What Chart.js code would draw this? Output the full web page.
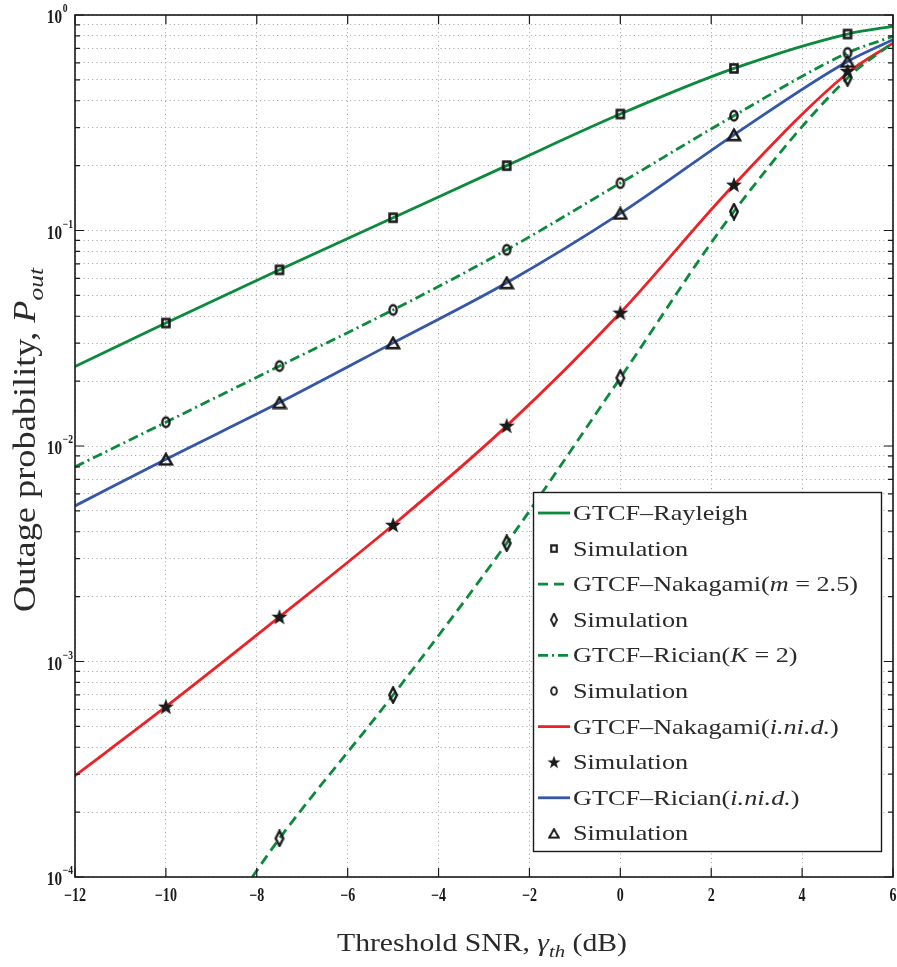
<!DOCTYPE html>
<html>
<head>
<meta charset="utf-8">
<script src="https://cdn.jsdelivr.net/npm/chart.js@4.4.0/dist/chart.umd.min.js"></script>
<style>
  html, body { margin: 0; padding: 0; background: #fff; }
</style>
</head>
<body>
<canvas id="outageChart" width="897" height="967"></canvas>
<script>
// threshold SNR positions (dB)
const snrCurve = [-12, -10, -7.5, -5, -2.5, 0, 2.5, 5, 6];
const snrSim = [-10, -7.5, -5, -2.5, 0, 2.5, 5];
const snrNakCurve = [-8.1, -7.5, -5, -2.5, 0, 2.5, 5, 6];
const snrNakSim = [-7.5, -5, -2.5, 0, 2.5, 5];

// outage probability
const rayleighCurve = [0.0234, 0.0372, 0.0657, 0.1146, 0.200, 0.347, 0.565, 0.816, 0.885];
const rayleighSim = [0.0372, 0.0657, 0.1146, 0.200, 0.347, 0.565, 0.816];
const nakagamiCurve = [0.000100, 0.000151, 0.000699, 0.00354, 0.0207, 0.1225, 0.510, 0.745];
const nakagamiSim = [0.000151, 0.000699, 0.00354, 0.0207, 0.1225, 0.510];
const ricianCurve = [0.0080, 0.0129, 0.0235, 0.0428, 0.0814, 0.166, 0.341, 0.667, 0.796];
const ricianSim = [0.0129, 0.0235, 0.0428, 0.0814, 0.166, 0.341, 0.667];
const nakInidCurve = [0.000295, 0.000617, 0.00161, 0.0043, 0.0124, 0.0415, 0.163, 0.538, 0.741];
const nakInidSim = [0.000617, 0.00161, 0.0043, 0.0124, 0.0415, 0.163, 0.550];
const ricInidCurve = [0.00527, 0.00868, 0.0159, 0.0301, 0.0572, 0.120, 0.278, 0.609, 0.768];
const ricInidSim = [0.00868, 0.0159, 0.0301, 0.0572, 0.120, 0.278, 0.609];

// axis ticks
const xTicks = [-12, -10, -8, -6, -4, -2, 0, 2, 4, 6];
const yDecades = [-4, -3, -2, -1, 0];
const minorSteps = [2, 3, 4, 5, 6, 7, 8, 9];

// legend labels: [text, italic]
const seriesNames = [
    [['GTCF\u2013Rayleigh', false]],
    [['Simulation', false]],
    [['GTCF\u2013Nakagami(', false], ['m', true], [' = 2.5)', false]],
    [['Simulation', false]],
    [['GTCF\u2013Rician(', false], ['K', true], [' = 2)', false]],
    [['Simulation', false]],
    [['GTCF\u2013Nakagami(', false], ['i.ni.d.', true], [')', false]],
    [['Simulation', false]],
    [['GTCF\u2013Rician(', false], ['i.ni.d.', true], [')', false]],
    [['Simulation', false]]
];

const GREEN = '#0b8a3b';
const RED = '#ee2226';
const BLUE = '#3457a8';
const INK = '#1a1a1a';
const SERIF = '"Liberation Serif", "DejaVu Serif", serif';

function makeMarker(w, h, paint) {
    const c = document.createElement('canvas');
    c.width = w;
    c.height = h;
    const g = c.getContext('2d');
    g.strokeStyle = INK;
    g.fillStyle = INK;
    paint(g);
    return c;
}

const squareMark = makeMarker(12, 13, g => {
    g.lineWidth = 2.6;
    g.strokeRect(2.5, 2.5, 7, 8);
});
const diamondMark = makeMarker(12, 18, g => {
    g.lineWidth = 2.4;
    g.beginPath();
    g.moveTo(6, 1.5); g.lineTo(9.8, 9); g.lineTo(6, 16.5); g.lineTo(2.2, 9);
    g.closePath();
    g.stroke();
});
const circleMark = makeMarker(12, 15, g => {
    g.lineWidth = 2.4;
    g.beginPath();
    g.ellipse(6, 7.5, 3.6, 4.8, 0, 0, Math.PI * 2);
    g.stroke();
});
const starMark = makeMarker(18, 18, g => {
    g.beginPath();
    for (let i = 0; i < 10; i++) {
        const r = i % 2 === 0 ? 8.5 : 3.5;
        const a = -Math.PI / 2 + i * Math.PI / 5;
        g.lineTo(9 + r * Math.cos(a), 9.5 + r * Math.sin(a));
    }
    g.closePath();
    g.fill();
});
const triangleMark = makeMarker(16, 14, g => {
    g.lineWidth = 2.5;
    g.beginPath();
    g.moveTo(8, 1.8); g.lineTo(14, 12.2); g.lineTo(2, 12.2);
    g.closePath();
    g.stroke();
});

function pts(xs, ys) {
    return xs.map((x, i) => ({ x: x, y: ys[i] }));
}

function curve(data, color, dash) {
    return {
        data: data,
        borderColor: color,
        borderWidth: 2.8,
        borderDash: dash,
        pointRadius: 0,
        showLine: true,
        fill: false,
        cubicInterpolationMode: 'monotone',
        clip: 0,
        order: 2
    };
}

function sim(data, mark) {
    return {
        data: data,
        showLine: false,
        pointStyle: mark,
        pointRadius: 5,
        order: 1
    };
}

const datasets = [
    curve(pts(snrCurve, rayleighCurve), GREEN, []),
    sim(pts(snrSim, rayleighSim), squareMark),
    curve(pts(snrNakCurve, nakagamiCurve), GREEN, [10, 6]),
    sim(pts(snrNakSim, nakagamiSim), diamondMark),
    curve(pts(snrCurve, ricianCurve), GREEN, [10, 4, 2, 4]),
    sim(pts(snrSim, ricianSim), circleMark),
    curve(pts(snrCurve, nakInidCurve), RED, []),
    sim(pts(snrSim, nakInidSim), starMark),
    curve(pts(snrCurve, ricInidCurve), BLUE, []),
    sim(pts(snrSim, ricInidSim), triangleMark)
];

// draws text runs [text, italic, sub] scaled horizontally by sx
function runsWidth(ctx, runs, size) {
    let w = 0;
    runs.forEach(r => {
        const s = r[2] ? size * 0.7 : size;
        ctx.font = (r[1] ? 'italic ' : '') + s + 'px ' + SERIF;
        w += ctx.measureText(r[0]).width;
    });
    return w;
}

function drawRuns(ctx, runs, size, sx) {
    let x = 0;
    runs.forEach(r => {
        const s = r[2] ? size * 0.7 : size;
        ctx.font = (r[1] ? 'italic ' : '') + s + 'px ' + SERIF;
        ctx.save();
        ctx.scale(sx, 1);
        ctx.fillText(r[0], x / sx, r[2] ? size * 0.25 : 0);
        ctx.restore();
        x += ctx.measureText(r[0]).width * sx;
    });
}

const paperPlugin = {
    id: 'paper',
    beforeDraw(chart) {
        const ctx = chart.ctx;
        ctx.save();
        ctx.fillStyle = '#fff';
        ctx.fillRect(0, 0, chart.width, chart.height);
        ctx.restore();
    },
    afterDraw(chart) {
        const ctx = chart.ctx;
        const a = chart.chartArea;
        const xs = chart.scales.x;
        const ys = chart.scales.y;
        ctx.save();
        ctx.strokeStyle = INK;
        ctx.fillStyle = INK;

        // inward tick marks
        ctx.lineWidth = 1.2;
        ctx.beginPath();
        xTicks.forEach(t => {
            const px = xs.getPixelForValue(t);
            ctx.moveTo(px, a.bottom); ctx.lineTo(px, a.bottom - 9);
            ctx.moveTo(px, a.top); ctx.lineTo(px, a.top + 9);
        });
        yDecades.forEach(d => {
            const py = ys.getPixelForValue(Math.pow(10, d));
            ctx.moveTo(a.left, py); ctx.lineTo(a.left + 9, py);
            ctx.moveTo(a.right, py); ctx.lineTo(a.right - 9, py);
            if (d < 0) {
                minorSteps.forEach(m => {
                    const pm = ys.getPixelForValue(m * Math.pow(10, d));
                    ctx.moveTo(a.left, pm); ctx.lineTo(a.left + 5, pm);
                    ctx.moveTo(a.right, pm); ctx.lineTo(a.right - 5, pm);
                });
            }
        });
        ctx.stroke();

        // frame
        ctx.lineWidth = 1.6;
        ctx.strokeRect(a.left, a.top, a.right - a.left, a.bottom - a.top);

        // x tick labels
        ctx.textAlign = 'center';
        ctx.textBaseline = 'alphabetic';
        ctx.font = 'bold 18px ' + SERIF;
        xTicks.forEach(t => {
            const px = xs.getPixelForValue(t);
            const label = t < 0 ? '\u2212' + Math.abs(t) : String(t);
            ctx.save();
            ctx.translate(px, a.bottom + 24);
            ctx.scale(0.78, 1);
            ctx.fillText(label, 0, 0);
            ctx.restore();
        });

        // y tick labels 10^d
        yDecades.forEach(d => {
            const py = ys.getPixelForValue(Math.pow(10, d));
            ctx.save();
            ctx.translate(a.left - 13, py + 8);
            ctx.scale(0.8, 1);
            ctx.textAlign = 'right';
            ctx.font = 'bold 19px ' + SERIF;
            ctx.fillText('10', 0, 0);
            ctx.textAlign = 'left';
            ctx.font = 'bold 12px ' + SERIF;
            ctx.fillText(d < 0 ? '\u2212' + Math.abs(d) : '0', 1, -11);
            ctx.restore();
        });

        // x axis title
        ctx.textAlign = 'left';
        ctx.fillStyle = '#2a2a2a';
        const xRuns = [['Threshold SNR, ', false], ['\u03b3', true], ['th', true, true], [' (dB)', false]];
        const xw = runsWidth(ctx, xRuns, 25);
        ctx.save();
        ctx.translate(337, 951);
        drawRuns(ctx, xRuns, 25, 290 / xw);
        ctx.restore();

        // y axis title
        const yRuns = [['Outage probability, ', false], ['P', true], ['out', true, true]];
        const yw = runsWidth(ctx, yRuns, 31);
        ctx.save();
        ctx.translate(35, 612);
        ctx.rotate(-Math.PI / 2);
        drawRuns(ctx, yRuns, 31, 344 / yw);
        ctx.restore();

        // legend box
        const lx = 533, ly = 492, lw = 348, lh = 359;
        ctx.fillStyle = '#fff';
        ctx.fillRect(lx, ly, lw, lh);
        ctx.lineWidth = 1.4;
        ctx.strokeStyle = INK;
        ctx.strokeRect(lx + 0.5, ly + 0.5, lw, lh);
        const legendSize = 21;
        const refW = runsWidth(ctx, seriesNames[2], legendSize);
        const lsx = 285 / refW;
        const rowStep = 35.6;
        chart.data.datasets.forEach((ds, i) => {
            const ry = 513 + i * rowStep;
            if (ds.showLine) {
                ctx.save();
                ctx.strokeStyle = ds.borderColor;
                ctx.lineWidth = ds.borderWidth;
                ctx.setLineDash(ds.borderDash);
                ctx.beginPath();
                ctx.moveTo(538, ry);
                ctx.lineTo(570, ry);
                ctx.stroke();
                ctx.restore();
            } else {
                const m = ds.pointStyle;
                ctx.save();
                ctx.translate(554, ry);
                ctx.scale(0.8, 0.8);
                ctx.drawImage(m, -m.width / 2, -m.height / 2);
                ctx.restore();
            }
            ctx.save();
            ctx.fillStyle = '#2a2a2a';
            ctx.translate(573, ry + 7);
            drawRuns(ctx, seriesNames[i].map(r => [r[0], r[1], false]), legendSize, lsx);
            ctx.restore();
        });
        ctx.restore();
    }
};

const ctx = document.getElementById('outageChart').getContext('2d');
const outageChart = new Chart(ctx, {
    type: 'scatter',
    data: { datasets: datasets },
    options: {
        responsive: false,
        animation: false,
        devicePixelRatio: 1,
        layout: {
            autoPadding: false,
            padding: { left: 75, right: 4, top: 15, bottom: 90 }
        },
        scales: {
            x: {
                type: 'linear',
                min: -12,
                max: 6,
                afterBuildTicks: scale => {
                    scale.ticks = xTicks.map(v => ({ value: v }));
                },
                ticks: { display: false },
                grid: { drawTicks: false, color: '#a0a0a0', lineWidth: 1 },
                border: { display: false, dash: [1, 3.3] }
            },
            y: {
                type: 'logarithmic',
                min: 1e-4,
                max: 1,
                afterBuildTicks: scale => {
                    const vals = [];
                    yDecades.forEach(d => {
                        vals.push(Math.pow(10, d));
                        if (d < 0) minorSteps.forEach(m => vals.push(m * Math.pow(10, d)));
                    });
                    scale.ticks = vals.map(v => ({ value: v }));
                },
                ticks: { display: false },
                grid: { drawTicks: false, color: '#a0a0a0', lineWidth: 1 },
                border: { display: false, dash: [1, 3.3] }
            }
        },
        plugins: {
            legend: { display: false },
            tooltip: { enabled: false }
        }
    },
    plugins: [paperPlugin]
});
</script>
</body>
</html>
